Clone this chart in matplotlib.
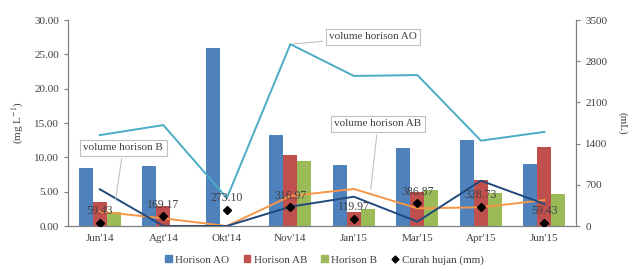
import numpy as np
import matplotlib
matplotlib.use("Agg")
import matplotlib.pyplot as plt
from matplotlib.lines import Line2D
from matplotlib.patches import Patch

plt.rcParams["font.family"] = ["Liberation Serif", "DejaVu Serif"]
plt.rcParams["mathtext.fontset"] = "stix"

# data
bulan = ["Jun'14", "Agt'14", "Okt'14", "Nov'14", "Jan'15", "Mar'15", "Apr'15", "Jun'15"]
horison_ao = [8.5, 8.7, 25.9, 13.3, 8.9, 11.3, 12.5, 9.1]
horison_ab = [3.5, 2.85, 0.0, 10.4, 2.1, 5.0, 6.7, 11.45]
horison_b = [2.1, 0.0, 0.0, 9.5, 2.5, 5.3, 4.85, 4.65]
curah_hujan = [59.43, 169.17, 273.10, 316.97, 119.97, 386.87, 328.73, 59.43]
vol_ao = [1545, 1715, 475, 3090, 2550, 2565, 1450, 1600]
vol_ab = [245, 130, 0, 510, 630, 300, 318, 440]
vol_b = [625, 0, 0, 328, 498, 75, 770, 375]

c_ao = "#4F81BD"
c_ab = "#C0504D"
c_b = "#9BBB59"
txt = "#404040"

fig = plt.figure(figsize=(6.36, 2.71), dpi=100)
ax = fig.add_axes([0.107, 0.166, 0.799, 0.760])
ax2 = ax.twinx()

x = np.arange(len(bulan))
w = 0.22
ax.bar(x - w, horison_ao, w, color=c_ao, zorder=2)
ax.bar(x, horison_ab, w, color=c_ab, zorder=2)
ax.bar(x + w, horison_b, w, color=c_b, zorder=2)

ax.set_xlim(-0.5, len(bulan) - 0.5)
ax.set_ylim(0, 30)
ax.set_yticks(np.arange(0, 31, 5))
ax.set_yticklabels(["%.2f" % v for v in np.arange(0, 31, 5)])
ax.set_xticks(x)
ax.set_xticklabels(bulan)
ax.set_ylabel("(mg L$^{-1}$)", fontsize=8, color=txt, labelpad=6)

# garis volume di sumbu kanan
ax2.plot(x, vol_ao, color="#4BACC6", lw=1.4, zorder=3)
ax2.plot(x, vol_ab, color="#F79646", lw=1.4, zorder=3)
ax2.plot(x, vol_b, color="#1F497D", lw=1.4, zorder=3)
ax2.plot(x, curah_hujan, ls="none", marker="D", ms=4, color="black", zorder=4)
for xi, v in zip(x, curah_hujan):
    ax2.annotate("%.2f" % v, (xi, v), xytext=(0, 4), textcoords="offset points",
                 ha="center", va="bottom", fontsize=8.5, color=txt)

ax2.set_ylim(0, 3500)
ax2.set_yticks(np.arange(0, 3501, 700))
ax2.set_ylabel("(mL)", fontsize=8, color=txt, rotation=270, labelpad=14)

for a in (ax, ax2):
    a.spines["top"].set_visible(False)
    for s in ("left", "right", "bottom"):
        a.spines[s].set_color("#7f7f7f")
    a.tick_params(labelsize=8, colors=txt, length=3, width=0.8)
ax.tick_params(axis="x", length=0, pad=6)
ax.tick_params(axis="y", color="#7f7f7f")
ax2.tick_params(axis="y", color="#7f7f7f")

# label keterangan garis
box = dict(boxstyle="square,pad=0.3", fc="white", ec="#bfbfbf", lw=0.8)
arr = dict(arrowstyle="-", color="#bfbfbf", lw=0.8)
ax2.annotate("volume horison AO", xy=(3.0, 3090), xytext=(4.3, 3215),
             fontsize=8, color=txt, ha="center", va="center", bbox=box, arrowprops=arr)
ax2.annotate("volume horison AB", xy=(4.26, 580), xytext=(4.38, 1735),
             fontsize=8, color=txt, ha="center", va="center", bbox=box, arrowprops=arr)
ax2.annotate("volume horison B", xy=(0.24, 390), xytext=(0.37, 1330),
             fontsize=8, color=txt, ha="center", va="center", bbox=box, arrowprops=arr)

handles = [
    Patch(color=c_ao, label="Horison AO"),
    Patch(color=c_ab, label="Horison AB"),
    Patch(color=c_b, label="Horison B"),
    Line2D([], [], ls="none", marker="D", ms=3.5, color="black", label="Curah hujan (mm)"),
]
leg = fig.legend(handles=handles, loc="lower center", bbox_to_anchor=(0.51, -0.015),
                 ncol=4, frameon=False, fontsize=8, handlelength=0.6, handleheight=0.6,
                 handletextpad=0.3, columnspacing=1.3)
for t in leg.get_texts():
    t.set_color(txt)

fig.savefig("out.png", dpi=100)
